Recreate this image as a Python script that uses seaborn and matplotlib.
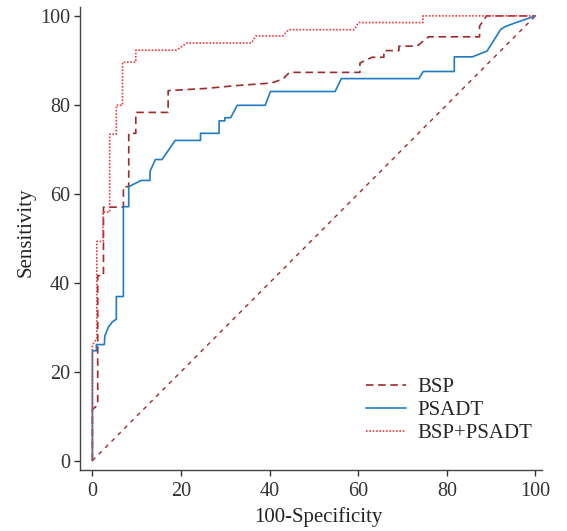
import pandas as pd
import seaborn as sns
import matplotlib.pyplot as plt

# ROC curves (x = 100-Specificity, y = Sensitivity)
bsp_x = [0, 0, 1.2, 1.2, 2.5, 2.5, 7.0, 7.0, 8.2, 8.2, 9.8, 9.8, 17.1, 17.1, 20.5, 25.8,
         32.1, 40.4, 43.0, 44.5, 60.4, 60.4, 63.1, 65.8, 65.8, 69.2, 69.2, 73.3, 75.9,
         87.4, 87.4, 89.0, 100]
bsp_y = [0, 11.5, 12.5, 41.6, 41.6, 57.0, 57.0, 61.6, 61.6, 73.6, 73.6, 78.3, 78.3, 83.2,
         83.4, 83.7, 84.3, 84.9, 85.8, 87.3, 87.3, 89.4, 90.7, 90.7, 92.2, 92.2, 93.2,
         93.2, 95.3, 95.3, 97.7, 100, 100]

psadt_x = [0, 0, 0.9, 0.9, 2.7, 2.8, 3.6, 4.5, 5.4, 5.4, 7.0, 7.0, 8.2, 8.2, 11.0, 13.0,
           13.0, 14.2, 15.7, 18.7, 24.4, 24.4, 28.6, 28.6, 29.9, 29.9, 31.2, 32.7, 39.0,
           40.2, 54.8, 56.2, 73.7, 74.7, 81.7, 81.7, 85.8, 89.1, 92.2, 93.2, 95.1, 100]
psadt_y = [0, 24.7, 24.7, 26.1, 26.1, 28.0, 30.0, 31.2, 31.8, 36.9, 36.9, 57.1, 57.1, 61.6,
           63.0, 63.0, 65.0, 67.7, 67.7, 72.0, 72.0, 73.6, 73.6, 76.4, 76.4, 77.1, 77.1,
           79.9, 79.9, 83.0, 83.0, 85.9, 85.9, 87.5, 87.5, 90.8, 90.8, 92.1, 97.0, 97.6,
           98.3, 100]

combo_x = [0, 0, 1.0, 1.0, 2.4, 2.4, 3.9, 3.9, 5.4, 5.4, 6.8, 6.8, 9.8, 9.8, 19.0, 21.3,
           35.9, 36.9, 43.0, 44.3, 59.1, 60.1, 74.6, 74.6, 100]
combo_y = [0, 26.0, 27.5, 49.3, 49.3, 55.9, 55.9, 73.4, 73.4, 79.9, 79.9, 89.6, 89.6, 92.3,
           92.3, 93.9, 93.9, 95.5, 95.5, 96.9, 96.9, 98.5, 98.5, 100, 100]

ref_line = [0, 100]

series = [
    ('BSP', bsp_x, bsp_y, '#9e2a2b', (4.5, 2.8)),
    ('PSADT', psadt_x, psadt_y, '#1f7cc4', ''),
    ('BSP+PSADT', combo_x, combo_y, '#ee3a40', (1, 1)),
]

sns.set_style('ticks')
plt.rcParams['font.family'] = ['Liberation Serif', 'DejaVu Serif']

fig = plt.figure(figsize=(5.67, 5.31), dpi=100)
ax = fig.add_axes([80 / 567, 1 - 470 / 531, 462 / 567, 463 / 531])

sns.lineplot(x=ref_line, y=ref_line, ax=ax, color='#9e2a2b', lw=1.0,
             dashes=False, estimator=None, sort=False)
ax.lines[-1].set_dashes((3, 3.5))

for name, xs, ys, col, dash in series:
    df = pd.DataFrame({'x': xs, 'y': ys})
    sns.lineplot(data=df, x='x', y='y', ax=ax, color=col, lw=1.2,
                 estimator=None, sort=False, label=name)
    if dash:
        ax.lines[-1].set_dashes(dash)

ax.set_xlim(-2.8, 101.5)
ax.set_ylim(-2.1, 102)
ax.set_xticks([0, 20, 40, 60, 80, 100])
ax.set_yticks([0, 20, 40, 60, 80, 100])
ax.set_xlabel('100-Specificity', fontsize=15, color='#222222')
ax.set_ylabel('Sensitivity', fontsize=15, color='#222222')
ax.xaxis.set_label_coords(0.517, -0.08)
ax.yaxis.set_label_coords(-0.097, 0.514)
ax.tick_params(labelsize=14.5, colors='#333333', length=4.3, width=1)
ax.tick_params(axis='x', pad=4.5)
ax.tick_params(axis='y', pad=3)
for s in ['left', 'bottom']:
    ax.spines[s].set_color('#444444')
    ax.spines[s].set_linewidth(1)
sns.despine(ax=ax)

ax.legend(loc='upper left', bbox_to_anchor=(0.62, 0.2), frameon=False, fontsize=15,
          handlelength=1.9, handletextpad=0.55, labelspacing=0.17,
          borderpad=0, borderaxespad=0)

fig.savefig('out.png', dpi=100)
